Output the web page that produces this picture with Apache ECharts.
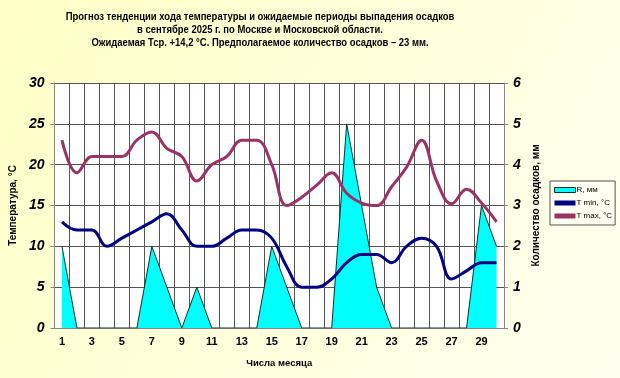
<!DOCTYPE html>
<html>
<head>
<meta charset="UTF-8">
<title>Прогноз температуры и осадков</title>
<script src="https://cdn.jsdelivr.net/npm/echarts@6/dist/echarts.min.js"></script>
<style>
  html, body { margin: 0; padding: 0; }
  #main { width: 620px; height: 378px; }
</style>
</head>
<body>
<div id="main"></div>
<script type="text/javascript">
    // дни месяца
    var days = [];
    for (var d = 1; d <= 30; d++) days.push(String(d));

    // осадки, мм (правая ось)
    var rain = [2, 0, 0, 0, 0, 0, 2, 1, 0, 1, 0, 0, 0, 0, 2, 1, 0, 0, 0, 5, 3, 1, 0, 0, 0, 0, 0, 0, 3, 2];
    // минимальная температура
    var tMin = [13, 12, 12, 10, 11, 12, 13, 14, 12, 10, 10, 11, 12, 12, 11, 7.5, 5, 5, 6, 8, 9, 9, 8, 10, 11, 10, 6, 7, 8, 8];
    // максимальная температура
    var tMax = [23, 19, 21, 21, 21, 23, 24, 22, 21, 18, 20, 21, 23, 23, 20, 15, 16, 17.5, 19, 16.5, 15.3, 15, 17.3, 19.7, 23, 18, 15.2, 17, 15.3, 13];

    var titleLines = [
        'Прогноз тенденции хода температуры и ожидаемые периоды выпадения осадков',
        'в сентябре 2025 г. по Москве и Московской области.',
        'Ожидаемая Тср. +14,2 °С. Предполагаемое количество осадков – 23 мм.'
    ];

    var myChart = echarts.init(document.getElementById('main'));
    var font = 'Liberation Sans, Arial, sans-serif';

    // заголовок - чуть сжатый по горизонтали, как в оригинале
    var titleGraphic = [];
    for (var i = 0; i < titleLines.length; i++) {
        titleGraphic.push({
            type: 'text',
            x: 260,
            y: 17 + i * 13,
            scaleX: 0.86,
            style: {
                text: titleLines[i],
                font: 'bold 11px ' + font,
                fill: '#000',
                align: 'center',
                verticalAlign: 'middle'
            }
        });
    }

    var option = {
        backgroundColor: {
            type: 'linear', x: 0, y: 0, x2: 1, y2: 1,
            colorStops: [
                {offset: 0, color: '#FFFFC6'},
                {offset: 1, color: '#FFFFF0'}
            ]
        },
        textStyle: {fontFamily: font},
        graphic: titleGraphic,
        legend: {
            orient: 'vertical',
            left: 550,
            top: 181,
            padding: [5, 3, 5, 4],
            itemGap: 5,
            itemWidth: 21,
            itemHeight: 5,
            borderColor: '#555',
            borderWidth: 1,
            borderRadius: 0,
            backgroundColor: '#FFFFF4',
            textStyle: {fontSize: 8, color: '#000', fontFamily: font, padding: [0, 0, 0, -4]},
            data: [
                {name: 'R, мм', icon: 'rect', itemStyle: {color: '#00FFFF', borderColor: '#003333', borderWidth: 1}},
                {name: 'T min, °C', icon: 'rect', itemStyle: {color: '#000080', borderWidth: 0}},
                {name: 'T max, °C', icon: 'rect', itemStyle: {color: '#993366', borderWidth: 0}}
            ]
        },
        grid: {left: 53, right: 116, top: 83, bottom: 50, show: true, backgroundColor: '#fff', borderWidth: 0},
        xAxis: {
            type: 'category',
            data: days,
            boundaryGap: true,
            name: 'Числа месяца',
            nameLocation: 'middle',
            nameGap: 30,
            nameTextStyle: {fontSize: 9.5, fontWeight: 'bold', color: '#000'},
            axisLine: {lineStyle: {color: '#888', width: 1}},
            axisTick: {show: false},
            axisLabel: {interval: 1, fontSize: 11, fontWeight: 'bold', color: '#000', margin: 8},
            splitLine: {show: true, interval: 0, lineStyle: {color: '#555', width: 1}}
        },
        yAxis: [
            {
                type: 'value',
                min: 0, max: 30, interval: 5,
                name: 'Температура, °C',
                nameLocation: 'middle',
                nameRotate: 90,
                nameGap: 30,
                nameTextStyle: {fontSize: 10, fontWeight: 'bold', color: '#000'},
                axisLine: {show: true, lineStyle: {color: '#888'}},
                axisTick: {show: true, length: 4, lineStyle: {color: '#888'}},
                axisLabel: {fontSize: 14, fontWeight: 'bold', fontStyle: 'italic', color: '#000', margin: 10},
                splitLine: {show: true, lineStyle: {color: '#555', width: 1}}
            },
            {
                type: 'value',
                min: 0, max: 6, interval: 1,
                name: 'Количество осадков, мм',
                nameLocation: 'middle',
                nameRotate: 90,
                nameGap: 27,
                nameTextStyle: {fontSize: 10, fontWeight: 'bold', color: '#000'},
                axisLine: {show: true, lineStyle: {color: '#888'}},
                axisTick: {show: true, length: 4, lineStyle: {color: '#888'}},
                axisLabel: {fontSize: 14, fontWeight: 'bold', fontStyle: 'italic', color: '#000', margin: 9},
                splitLine: {show: false}
            }
        ],
        series: [
            {
                name: 'R, мм',
                type: 'line',
                yAxisIndex: 1,
                data: rain,
                symbol: 'none',
                lineStyle: {color: '#003333', width: 1},
                itemStyle: {color: '#00FFFF'},
                areaStyle: {color: '#00FFFF', opacity: 1},
                z: 1
            },
            {
                name: 'T min, °C',
                type: 'line',
                data: tMin,
                smooth: 0.4,
                symbol: 'none',
                lineStyle: {color: '#000080', width: 3},
                itemStyle: {color: '#000080'},
                z: 3
            },
            {
                name: 'T max, °C',
                type: 'line',
                data: tMax,
                smooth: 0.4,
                symbol: 'none',
                lineStyle: {color: '#993366', width: 3},
                itemStyle: {color: '#993366'},
                z: 3
            }
        ]
    };
    myChart.setOption(option);
</script>
</body>
</html>
